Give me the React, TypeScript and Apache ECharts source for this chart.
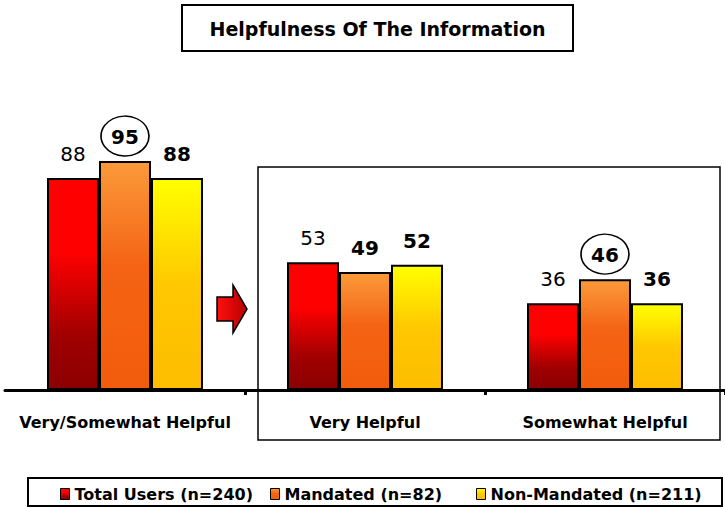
import React, { useEffect, useRef } from "react";
import * as echarts from "echarts";

const categories = ["Very/Somewhat Helpful", "Very Helpful", "Somewhat Helpful"];
const seriesNames = ["Total Users (n=240)", "Mandated (n=82)", "Non-Mandated (n=211)"];
const totalUsers = [88, 53, 36];
const mandated = [95, 49, 46];
const nonMandated = [88, 52, 36];
const circledMandated = [0, 2]; // category indexes whose Mandated value is circled
const titleText = "Helpfulness Of The Information";

const FONT = "DejaVu Sans";
const legendLefts = [55, 265, 471];

const grad = (stops: [number, string][]) =>
  new echarts.graphic.LinearGradient(0, 0, 0, 1, stops.map(([offset, color]) => ({ offset, color })));

export default function App() {
  const ref = useRef<HTMLDivElement>(null);
  useEffect(() => {
    if (!ref.current) return;
    const chart = echarts.init(ref.current, null, { renderer: "svg" });
    const redFill = grad([[0, "#ff0000"], [0.35, "#ff0000"], [0.75, "#a00000"], [1, "#8c0000"]]);
    const orangeFill = grad([[0, "#fb9a3a"], [0.45, "#f46414"], [1, "#f25c0c"]]);
    const yellowFill = grad([[0, "#ffff00"], [0.5, "#ffc800"], [1, "#fdbd00"]]);
    const labelBase = {
      show: true,
      position: "top" as const,
      distance: 14,
      color: "#000",
      fontFamily: FONT,
      fontSize: 20,
    };
    const mk = (name: string, data: number[], fill: any, bold: boolean, extra: any = {}) => ({
      name,
      type: "bar",
      data,
      barWidth: 52,
      barGap: "0%",
      itemStyle: { color: fill, borderColor: "#000", borderWidth: 2 },
      label: { ...labelBase, fontWeight: bold ? "bold" : "normal" },
      ...extra,
    });
    chart.setOption({
      animation: false,
      backgroundColor: "#fff",
      grid: { left: 5, top: 149, width: 727, height: 241, containLabel: false },
      xAxis: {
        type: "category",
        data: categories,
        axisLine: { lineStyle: { color: "#000", width: 3 } },
        axisTick: {
          show: true,
          length: 5,
          interval: (i: number) => i !== 0,
          lineStyle: { color: "#000", width: 3 },
        },
        axisLabel: {
          interval: 0,
          margin: 24,
          color: "#000",
          fontFamily: FONT,
          fontWeight: "bold",
          fontSize: 16,
        },
      },
      yAxis: { type: "value", min: 0, max: 100, show: false },
      legend: seriesNames.map((n, i) => ({
        data: [n],
        left: legendLefts[i],
        top: 481,
        itemWidth: 9,
        itemHeight: 11,
        icon: "rect",
        itemStyle: { borderColor: "#000", borderWidth: 1 },
        textStyle: { color: "#000", fontFamily: FONT, fontWeight: "bold", fontSize: 16 },
      })),
      series: [
        mk(seriesNames[0], totalUsers, redFill, false),
        mk(seriesNames[1], mandated, orangeFill, true, {
          markPoint: {
            silent: true,
            data: circledMandated.map((i) => ({
              coord: [i, mandated[i]],
              symbol: "circle",
              symbolSize: [48, 40],
              symbolOffset: [0, -25],
              itemStyle: { color: "rgba(0,0,0,0)", borderColor: "#000", borderWidth: 1.5 },
              label: { show: false },
            })),
          },
        }),
        mk(seriesNames[2], nonMandated, yellowFill, true),
      ],
      graphic: [
        {
          type: "rect",
          shape: { x: 182, y: 5, width: 391, height: 46 },
          style: { fill: "#fff", stroke: "#000", lineWidth: 2 },
        },
        {
          type: "text",
          x: 377.5,
          y: 29,
          style: {
            text: titleText,
            fill: "#000",
            font: `bold 19px "${FONT}"`,
            align: "center",
            verticalAlign: "middle",
          },
        },
        {
          type: "rect",
          shape: { x: 258, y: 167, width: 462, height: 273 },
          style: { fill: "none", stroke: "#000", lineWidth: 1.5 },
          z: 1,
        },
        {
          type: "polygon",
          shape: {
            points: [
              [217, 297],
              [233, 297],
              [233, 285],
              [247, 309],
              [233, 333],
              [233, 321],
              [217, 321],
            ],
          },
          style: {
            fill: new echarts.graphic.LinearGradient(0, 0, 1, 0, [
              { offset: 0, color: "#ff1010" },
              { offset: 1, color: "#b80000" },
            ]),
            stroke: "#000",
            lineWidth: 1.5,
          },
        },
        {
          type: "rect",
          shape: { x: 28, y: 478, width: 694, height: 28 },
          style: { fill: "none", stroke: "#000", lineWidth: 2 },
        },
      ],
    });
    return () => chart.dispose();
  }, []);
  return (
    <div
      ref={ref}
      style={{ position: "fixed", left: 0, top: 0, width: 725, height: 508, background: "#fff" }}
    />
  );
}
